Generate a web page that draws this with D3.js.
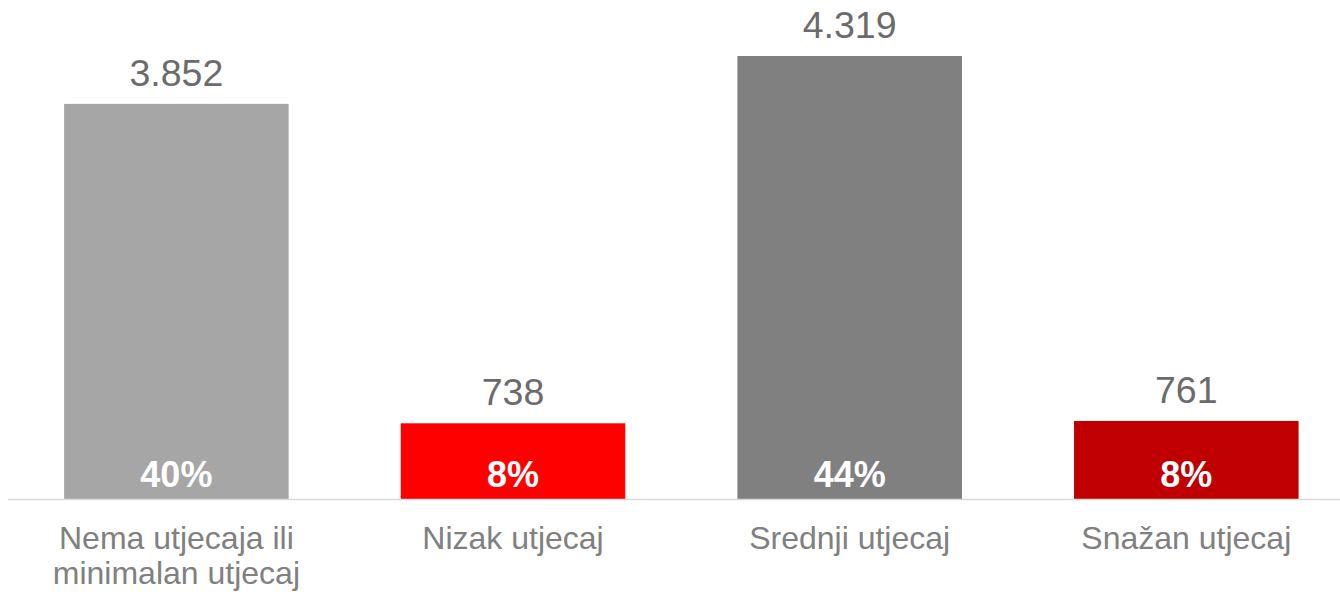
<!DOCTYPE html>
<html>
<head>
<meta charset="utf-8">
<script src="https://cdn.jsdelivr.net/npm/d3@7"></script>
<style>
  html, body { margin: 0; padding: 0; background: #ffffff; }
  svg { display: block; font-family: "Liberation Sans", Arial, sans-serif; }
</style>
</head>
<body>
<svg id="chart" width="1340" height="592"></svg>
<script>
const categories = [["Nema utjecaja ili", "minimalan utjecaj"], ["Nizak utjecaj"], ["Srednji utjecaj"], ["Snažan utjecaj"]];
const values = [3852, 738, 4319, 761];
const percents = ["40%", "8%", "44%", "8%"];
const colors = ["#A6A6A6", "#FF0000", "#808080", "#C00000"];

const W = 1340, H = 592;
const baseline = 499;
const svg = d3.select("#chart");

const ids = categories.map((c, i) => i);
const x = d3.scaleBand().domain(ids).range([8, 1354.7]).paddingInner(0.333).paddingOuter(0.1667);
const y = d3.scaleLinear().domain([0, 4865]).range([baseline, 0]);

const loc = d3.formatLocale({decimal: ",", thousands: ".", grouping: [3], currency: ["", " €"]});
const fmt = loc.format(",d");

// bars
svg.selectAll("rect.bar").data(values).join("rect")
  .attr("class", "bar")
  .attr("x", (d, i) => x(i))
  .attr("y", d => y(d))
  .attr("width", x.bandwidth())
  .attr("height", d => y(0) - y(d))
  .attr("fill", (d, i) => colors[i]);

// axis line
const axis = svg.append("g").attr("transform", `translate(0,${baseline + 0.5})`)
  .call(d3.axisBottom(x).tickSize(0).tickFormat(""));
axis.select(".domain").attr("stroke", "#D9D9D9").attr("stroke-width", 1.5).attr("d", "M8,0H1340");

// value labels
svg.selectAll("text.val").data(values).join("text")
  .attr("class", "val")
  .attr("x", (d, i) => x(i) + x.bandwidth() / 2)
  .attr("y", d => y(d) - 18)
  .attr("text-anchor", "middle")
  .attr("font-size", 37.5)
  .attr("fill", "#6B6B6B")
  .text(d => fmt(d));

// percent labels
svg.selectAll("text.pct").data(percents).join("text")
  .attr("class", "pct")
  .attr("x", (d, i) => x(i) + x.bandwidth() / 2)
  .attr("y", baseline - 12)
  .attr("text-anchor", "middle")
  .attr("font-size", 36)
  .attr("font-weight", "bold")
  .attr("fill", "#FFFFFF")
  .text(d => d);

// category labels
const cat = svg.selectAll("text.cat").data(categories).join("text")
  .attr("class", "cat")
  .attr("x", (d, i) => x(i) + x.bandwidth() / 2)
  .attr("y", baseline + 50)
  .attr("text-anchor", "middle")
  .attr("font-size", 32)
  .attr("fill", "#808080");
cat.selectAll("tspan").data(d => d).join("tspan")
  .attr("x", function() { return this.parentNode.getAttribute("x"); })
  .attr("dy", (d, j) => j === 0 ? 0 : 35)
  .text(d => d);
</script>
</body>
</html>
